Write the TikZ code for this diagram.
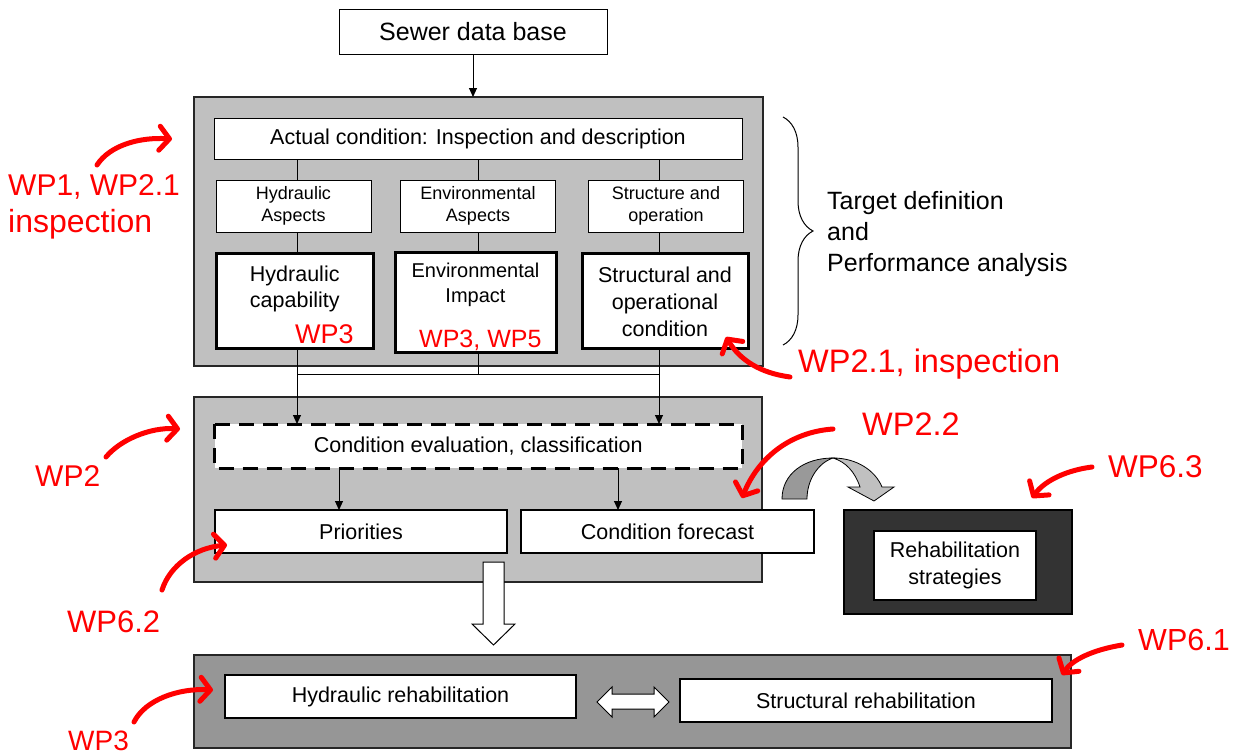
\documentclass[tikz,border=0pt]{standalone}
\usepackage{fontspec}
\setmainfont{Liberation Sans}
\usetikzlibrary{arrows.meta,decorations.pathreplacing,calc}
\definecolor{panelgray}{HTML}{C0C0C0}
\definecolor{panelmid}{HTML}{969696}
\definecolor{paneldark}{HTML}{333333}
\definecolor{wpred}{HTML}{FF0000}
\definecolor{ribbondark}{HTML}{999999}
\newcommand\fsz[2]{\fontsize{#1}{#2}\selectfont}
\begin{document}
\begin{tikzpicture}[x=1pt,y=-1pt,
 plain/.style={draw=black,fill=white,line width=1pt,inner sep=0pt,outer sep=0pt,align=center},
 thickbox/.style={plain,line width=3pt},
 midbox/.style={plain,line width=2pt},
 panel/.style={draw=black!85,line width=1.2pt,inner sep=0pt,outer sep=0pt},
 conn/.style={draw=black,line width=1pt},
 arr/.style={conn,-{Triangle[length=9pt,width=8pt]}},
 wp/.style={text=wpred,inner sep=0pt,anchor=base west},
 wparr/.style={draw=wpred,line width=5pt,line cap=round,-{Straight Barb[length=10pt,width=24pt,round]}},
 txt/.style={align=center,inner sep=0pt},
]
\useasboundingbox (0,0) rectangle (1237,755);

% top
\node[plain, minimum width=268pt, minimum height=45pt, font=\fsz{25}{30}] (sewer) at (473,32) {Sewer data base};

% panel 1
\node[panel, fill=panelgray, minimum width=569pt, minimum height=269pt] (big1) at (478.5,231.5) {};
\draw[arr] (sewer.south) -- (sewer.south |- big1.north);
\node[plain, minimum width=528pt, minimum height=41pt, font=\fsz{21.5}{26}] (actual) at (478,138.5) {Actual condition: Inspection and description};
\node[plain, minimum width=155pt, minimum height=52pt, font=\fsz{18}{22}] (asp1) at (293.5,206) {Hydraulic\\Aspects};
\node[plain, minimum width=155pt, minimum height=52pt, font=\fsz{18}{22}] (asp2) at (478,206) {Environmental\\Aspects};
\node[plain, minimum width=155pt, minimum height=52pt, font=\fsz{18}{22}] (asp3) at (666,206) {Structure and\\operation};
\node[thickbox, minimum width=157.5pt, minimum height=95pt] (cap1) at (294.75,300.5) {};
\node[thickbox, minimum width=161pt, minimum height=100pt] (cap2) at (475.5,302) {};
\node[thickbox, minimum width=166pt, minimum height=95pt] (cap3) at (665,300.5) {};
\node[txt, font=\fsz{21.5}{26.5}] (cap1t) at (294.75,289) {Hydraulic\\capability};
\node[txt, font=\fsz{20}{24.5}] (cap2t) at (475.5,285) {Environmental\\Impact};
\node[txt, font=\fsz{21.5}{27}] (cap3t) at (665,302) {Structural and\\operational\\condition};

\coordinate (xl) at (297,0);
\coordinate (xm) at (478,0);
\coordinate (xr) at (659,0);
\coordinate (hl) at (0,374);
\coordinate (xp) at (339,0);
\coordinate (xf) at (618,0);

\draw[conn] (actual.south -| xl) -- (asp1.north -| xl);
\draw[conn] (actual.south -| xm) -- (asp2.north -| xm);
\draw[conn] (actual.south -| xr) -- (asp3.north -| xr);
\draw[conn] (asp1.south -| xl) -- (cap1.north -| xl);
\draw[conn] (asp2.south -| xm) -- (cap2.north -| xm);
\draw[conn] (asp3.south -| xr) -- (cap3.north -| xr);

% panel 2
\node[panel, fill=panelgray, minimum width=568pt, minimum height=185pt] (big2) at (478,489.5) {};
\node[plain, draw=none, minimum width=527.5pt, minimum height=44pt, font=\fsz{21.5}{26}] (eval) at (478.25,446) {Condition evaluation, classification};
\draw[line width=3pt, dash pattern=on 15pt off 9pt] (eval.north west) rectangle (eval.south east);
\node[midbox, minimum width=292pt, minimum height=43pt, font=\fsz{21.5}{26}] (prio) at (361,531.5) {Priorities};
\node[midbox, minimum width=293pt, minimum height=43pt, font=\fsz{21.5}{26}] (fore) at (667.5,531.5) {Condition forecast};

\draw[arr] (cap1.south -| xl) -- (eval.north -| xl);
\draw[arr] (cap3.south -| xr) -- (eval.north -| xr);
\draw[conn] (hl -| xl) -- (hl -| xr);
\draw[conn] (cap2.south -| xm) -- (hl -| xm);
\draw[arr] (eval.south -| xp) -- (prio.north -| xp);
\draw[arr] (eval.south -| xf) -- (fore.north -| xf);

% strategies
\node[panel, draw=black, fill=paneldark, minimum width=228pt, minimum height=104pt] (stratbox) at (958,562) {};
\node[plain, line width=2.5pt, minimum width=162pt, minimum height=69pt, font=\fsz{21.5}{27}] (strat) at (955,565.5) {Rehabilitation\\strategies};

% curved ribbon arrow
\fill[ribbondark, draw=black, line width=0.8pt] (782,499) .. controls (782,474) and (804,458) .. (833,458)
  .. controls (818,463) and (807,480) .. (807,499) -- cycle;
\fill[panelgray, draw=black, line width=0.8pt] (833,458) .. controls (856,458) and (875,470) .. (882,487)
  -- (894,487) -- (874,501) -- (848,487) -- (860,487) .. controls (855,472) and (846,462) .. (833,458) -- cycle;

% panel 3
\node[panel, fill=panelmid, minimum width=877pt, minimum height=93pt] (big3) at (632.5,701.5) {};
\node[midbox, minimum width=351pt, minimum height=43pt, font=\fsz{21.5}{26}] (hydr) at (400.5,696.5) {Hydraulic rehabilitation};
\node[midbox, minimum width=372pt, minimum height=43pt, font=\fsz{21.5}{26}] (struct) at (866,700.5) {Structural rehabilitation};

% white down arrow
\fill[white, draw=black, line width=1pt] (483,562) -- (504,562) -- (504,624) -- (515,624) -- (493.5,645) -- (472,624) -- (483,624) -- cycle;
% double arrow
\fill[white, draw=black, line width=1pt] (597,702) -- (612,687) -- (612,694) -- (654,694) -- (654,687) -- (669,702)
  -- (654,717) -- (654,709) -- (612,709) -- (612,717) -- cycle;

% brace
\coordinate (bt) at (783,117);
\coordinate (bb) at (783,345);
\draw[line width=1pt, decorate, decoration={brace, amplitude=30pt, aspect=0.5}] (bt) -- (bb);
\node[anchor=west, align=left, inner sep=0pt, font=\fsz{25}{31}] (target) at (827,234) {Target definition\\and\\Performance analysis};

% red labels
\node[wp, font=\fsz{30}{30}] (wp1) at (8,195) {WP1, WP2.1};
\node[wp, font=\fsz{32}{32}] (wp1b) at (8,232) {inspection};
\node[wp, font=\fsz{30}{30}] (wp2) at (35,486) {WP2};
\node[wp, font=\fsz{31}{31}] (wp62) at (67,632) {WP6.2};
\node[wp, font=\fsz{28}{28}] (wp3b) at (68,750) {WP3};
\node[wp, font=\fsz{27}{27}] (wp3a) at (295,343) {WP3};
\node[wp, font=\fsz{25}{25}] (wp35) at (419,347) {WP3, WP5};
\node[wp, font=\fsz{32.5}{32.5}] (wp21) at (798,372) {WP2.1, inspection};
\node[wp, font=\fsz{32.5}{32.5}] (wp22) at (862,435) {WP2.2};
\node[wp, font=\fsz{31.5}{31.5}] (wp63) at (1108,477) {WP6.3};
\node[wp, font=\fsz{30.5}{30.5}] (wp61) at (1138,650) {WP6.1};

% red arrows
\coordinate (a1s) at (97,165);   \coordinate (a1e) at (172,139);
\coordinate (a2s) at (106,457);  \coordinate (a2e) at (180,429);
\coordinate (a3s) at (162,590);  \coordinate (a3e) at (227,545);
\coordinate (a4s) at (134,722);  \coordinate (a4e) at (213,690);
\coordinate (a5s) at (790,377);  \coordinate (a5e) at (726,337);
\coordinate (a6s) at (833,429);  \coordinate (a6e) at (742,498);
\coordinate (a7s) at (1092,467); \coordinate (a7e) at (1032,498);
\coordinate (a8s) at (1122,645); \coordinate (a8e) at (1062,675);
\draw[wparr] (a1s) .. controls (110,145) and (140,137) .. (a1e);
\draw[wparr] (a2s) .. controls (120,440) and (150,427) .. (a2e);
\draw[wparr] (a3s) .. controls (170,565) and (195,548) .. (a3e);
\draw[wparr] (a4s) .. controls (145,700) and (178,688) .. (a4e);
\draw[wparr] (a5s) .. controls (760,373) and (740,360) .. (a5e);
\draw[wparr] (a6s) .. controls (790,432) and (758,458) .. (a6e);
\draw[wparr] (a7s) .. controls (1068,470) and (1045,480) .. (a7e);
\draw[wparr] (a8s) .. controls (1092,650) and (1072,660) .. (a8e);
\end{tikzpicture}
\end{document}
